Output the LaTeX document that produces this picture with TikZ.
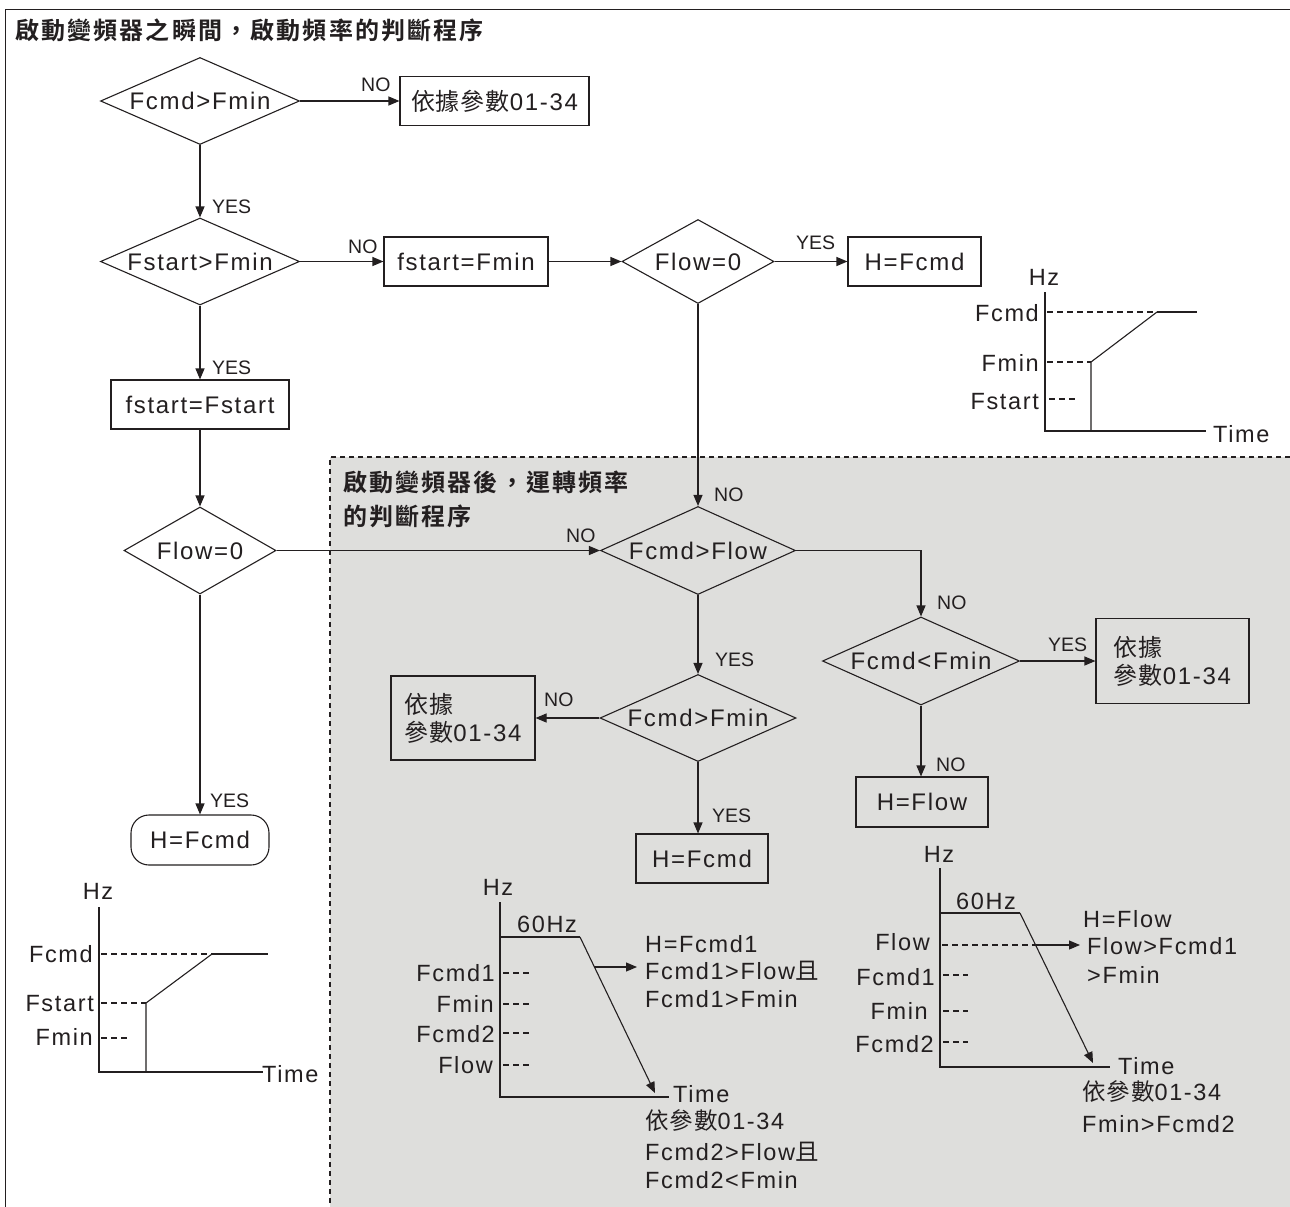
\documentclass[tikz,border=0pt]{standalone}
\usepackage{fontspec}
\setmainfont{Liberation Sans}[LetterSpace=7]
\newfontfamily\yn{Liberation Sans}
\newfontfamily\cjk{Noto Sans CJK TC}[LetterSpace=4]
\newfontfamily\cjkb{Noto Sans CJK TC Bold}[LetterSpace=9]
\usetikzlibrary{shapes.geometric,arrows.meta}
\definecolor{ink}{RGB}{35,31,32}
\definecolor{greyfill}{RGB}{222,222,220}
\begin{document}
\begin{tikzpicture}[x=1pt,y=-1pt,
 every node/.style={text=ink},
 dia/.style={diamond,draw=ink,line width=1.1pt,inner sep=0pt,font=\fontsize{24}{28}\selectfont},
 box/.style={rectangle,draw=ink,line width=1.1pt,inner sep=0pt,font=\fontsize{24}{28}\selectfont},
 arr/.style={draw=ink,line width=1.1pt,-{Triangle[length=11pt,width=9pt]}},
 ln/.style={draw=ink,line width=1.1pt},
 dsh/.style={draw=ink,line width=1.1pt,dash pattern=on 6pt off 4pt},
 lab/.style={font=\yn\fontsize{19.5}{22}\selectfont,inner sep=0pt,anchor=base west},
 ct/.style={font=\fontsize{23.5}{28}\selectfont,inner sep=0pt},
 ttl/.style={font=\cjkb\fontsize{24}{30}\selectfont,inner sep=0pt,anchor=base west},
]
\useasboundingbox (0,0) rectangle (1290,1207);
\fill[white] (0,0) rectangle (1290,1207);
% shaded region
\fill[greyfill] (330,457) rectangle (1290,1207);
\draw[ink,line width=1.2pt,dash pattern=on 5pt off 4pt] (1290,457) -- (330,457) -- (330,1207);
% outer frame
\draw[ink,line width=1.6pt] (1290,9.5) -- (5.5,9.5) -- (5.5,1207);

% titles
\node[ttl] (title) at (15,40) {啟動變頻器之瞬間，啟動頻率的判斷程序};
\node[ttl] (g1) at (343,491) {啟動變頻器後，運轉頻率};
\node[ttl] (g2) at (343,525) {的判斷程序};

% flow nodes
\node[dia,minimum width=199,minimum height=87] (d1) at (200,101) {\makebox[0pt]{Fcmd>Fmin}};
\node[box,minimum width=189,minimum height=49] (b1) at (494.5,101) {{\cjk 依據參數}01-34};
\node[dia,minimum width=199,minimum height=87] (d2) at (200,261.5) {\makebox[0pt]{Fstart>Fmin}};
\node[box,minimum width=164,minimum height=49] (b2) at (466,261.5) {fstart=Fmin};
\node[dia,minimum width=152,minimum height=84] (d3) at (698,261.5) {\makebox[0pt]{Flow=0}};
\node[box,minimum width=133,minimum height=49] (b3) at (914.5,261.5) {H=Fcmd};
\node[box,minimum width=178,minimum height=49] (b4) at (200,404.5) {fstart=Fstart};
\node[dia,minimum width=152,minimum height=87] (d5) at (200,550.5) {\makebox[0pt]{Flow=0}};
\node[box,rounded corners=18,minimum width=138,minimum height=50] (t1) at (200,840) {H=Fcmd};
\node[dia,minimum width=195,minimum height=88] (d4) at (698,550.5) {\makebox[0pt]{Fcmd>Flow}};
\node[dia,minimum width=197,minimum height=88] (d6) at (921,661) {\makebox[0pt]{Fcmd<Fmin}};
\node[box,minimum width=153,minimum height=85,align=left] (b6) at (1172.5,661) {{\cjk 依據}\\{\cjk 參數}01-34};
\node[box,minimum width=132,minimum height=50] (b7) at (922,802) {H=Flow};
\node[dia,minimum width=196,minimum height=87] (d7) at (698,718) {\makebox[0pt]{Fcmd>Fmin}};
\node[box,minimum width=144,minimum height=84,align=left] (b8) at (463,718) {{\cjk 依據}\\{\cjk 參數}01-34};
\node[box,minimum width=132,minimum height=49] (b9) at (702,858.5) {H=Fcmd};

% connectors
\draw[arr] (d1.east) -- (b1.west);
\draw[arr] (d1.south) -- (d2.north);
\draw[arr] (d2.east) -- (b2.west);
\draw[arr] (d2.south) -- (b4.north);
\draw[arr] (b2.east) -- (d3.west);
\draw[arr] (d3.east) -- (b3.west);
\draw[arr] (d3.south) -- (d4.north);
\draw[arr] (b4.south) -- (d5.north);
\draw[arr] (d5.east) -- (d4.west);
\draw[arr] (d5.south) -- (t1.north);
\draw[arr] (d4.east) -| (d6.north);
\draw[arr] (d6.east) -- (b6.west);
\draw[arr] (d6.south) -- (d6.south |- b7.north);
\draw[arr] (d4.south) -- (d7.north);
\draw[arr] (d7.west) -- (b8.east);
\draw[arr] (d7.south) -- (d7.south |- b9.north);

% connector labels
\node[lab] (l1) at (361,92) {NO};
\node[lab] (l2) at (212,213) {YES};
\node[lab] (l3) at (348,253) {NO};
\node[lab] (l4) at (212,374) {YES};
\node[lab] (l5) at (796,249) {YES};
\node[lab] (l6) at (714,501) {NO};
\node[lab] (l7) at (566,542) {NO};
\node[lab] (l8) at (210,807) {YES};
\node[lab] (l9) at (937,609) {NO};
\node[lab] (l10) at (1048,651) {YES};
\node[lab] (l11) at (936,771) {NO};
\node[lab] (l12) at (715,666) {YES};
\node[lab] (l13) at (544,706) {NO};
\node[lab] (l14) at (712,822) {YES};

% chart A (top right)
\node[ct,anchor=base] at (1044,285) {Hz};
\draw[ln] (1045,292) -- (1045,431) -- (1206,431);
\node[ct,anchor=base west] at (1213,442) {Time};
\node[ct,anchor=base east] at (1039,321) {Fcmd};
\node[ct,anchor=base east] at (1039,371) {Fmin};
\node[ct,anchor=base east] at (1039,409) {Fstart};
\draw[dsh] (1047,312) -- (1157,312);
\draw[ln] (1157,312) -- (1197,312);
\draw[dsh] (1047,362) -- (1091,362);
\draw[dsh] (1049,399) -- (1075,399);
\draw[ln] (1091,431) -- (1091,362) -- (1157,312);

% chart B (bottom left)
\node[ct,anchor=base] at (98,899) {Hz};
\draw[ln] (99,907) -- (99,1072) -- (263,1072);
\node[ct,anchor=base west] at (262,1082) {Time};
\node[ct,anchor=base east] at (93,962) {Fcmd};
\node[ct,anchor=base east] at (94,1011) {Fstart};
\node[ct,anchor=base east] at (93,1045) {Fmin};
\draw[dsh] (101,954) -- (212,954);
\draw[ln] (212,954) -- (268,954);
\draw[dsh] (101,1003) -- (146,1003);
\draw[dsh] (101,1038) -- (129,1038);
\draw[ln] (146,1072) -- (146,1003) -- (212,954);

% chart C (middle)
\node[ct,anchor=base] at (498,895) {Hz};
\draw[ln] (500,902) -- (500,1097) -- (669,1097);
\node[ct,anchor=base west] at (673,1102) {Time};
\node[ct,anchor=base] at (547,932) {60Hz};
\draw[ln] (500,937) -- (580,937);
\draw[arr] (580,937) -- (655,1093);
\draw[arr] (594,967) -- (637,967);
\node[ct,anchor=base east] at (495,981) {Fcmd1};
\node[ct,anchor=base east] at (494,1012) {Fmin};
\node[ct,anchor=base east] at (495,1042) {Fcmd2};
\node[ct,anchor=base east] at (493,1073) {Flow};
\draw[dsh] (503,973) -- (529,973);
\draw[dsh] (503,1004) -- (529,1004);
\draw[dsh] (503,1033) -- (529,1033);
\draw[dsh] (503,1065) -- (529,1065);
\node[ct,anchor=base west] at (645,952) {H=Fcmd1};
\node[ct,anchor=base west] at (645,979) {Fcmd1>Flow{\cjk 且}};
\node[ct,anchor=base west] at (645,1007) {Fcmd1>Fmin};
\node[ct,anchor=base west] at (645,1129) {{\cjk 依參數}01-34};
\node[ct,anchor=base west] at (645,1160) {Fcmd2>Flow{\cjk 且}};
\node[ct,anchor=base west] at (645,1188) {Fcmd2<Fmin};

% chart D (right)
\node[ct,anchor=base] at (939,862) {Hz};
\draw[ln] (940,868) -- (940,1067) -- (1110,1067);
\node[ct,anchor=base west] at (1118,1074) {Time};
\node[ct,anchor=base] at (986,909) {60Hz};
\draw[ln] (940,913) -- (1020,913);
\draw[arr] (1020,913) -- (1093,1063);
\draw[dsh] (942,945) -- (1036,945);
\draw[arr] (1036,945) -- (1080,945);
\node[ct,anchor=base east] at (930,950) {Flow};
\node[ct,anchor=base east] at (935,985) {Fcmd1};
\node[ct,anchor=base east] at (928,1019) {Fmin};
\node[ct,anchor=base east] at (934,1052) {Fcmd2};
\draw[dsh] (943,975) -- (968,975);
\draw[dsh] (943,1011) -- (968,1011);
\draw[dsh] (943,1042) -- (968,1042);
\node[ct,anchor=base west] at (1083,927) {H=Flow};
\node[ct,anchor=base west] at (1087,954) {Flow>Fcmd1};
\node[ct,anchor=base west] at (1087,983) {>Fmin};
\node[ct,anchor=base west] at (1082,1100) {{\cjk 依參數}01-34};
\node[ct,anchor=base west] at (1082,1132) {Fmin>Fcmd2};
\end{tikzpicture}
\end{document}
